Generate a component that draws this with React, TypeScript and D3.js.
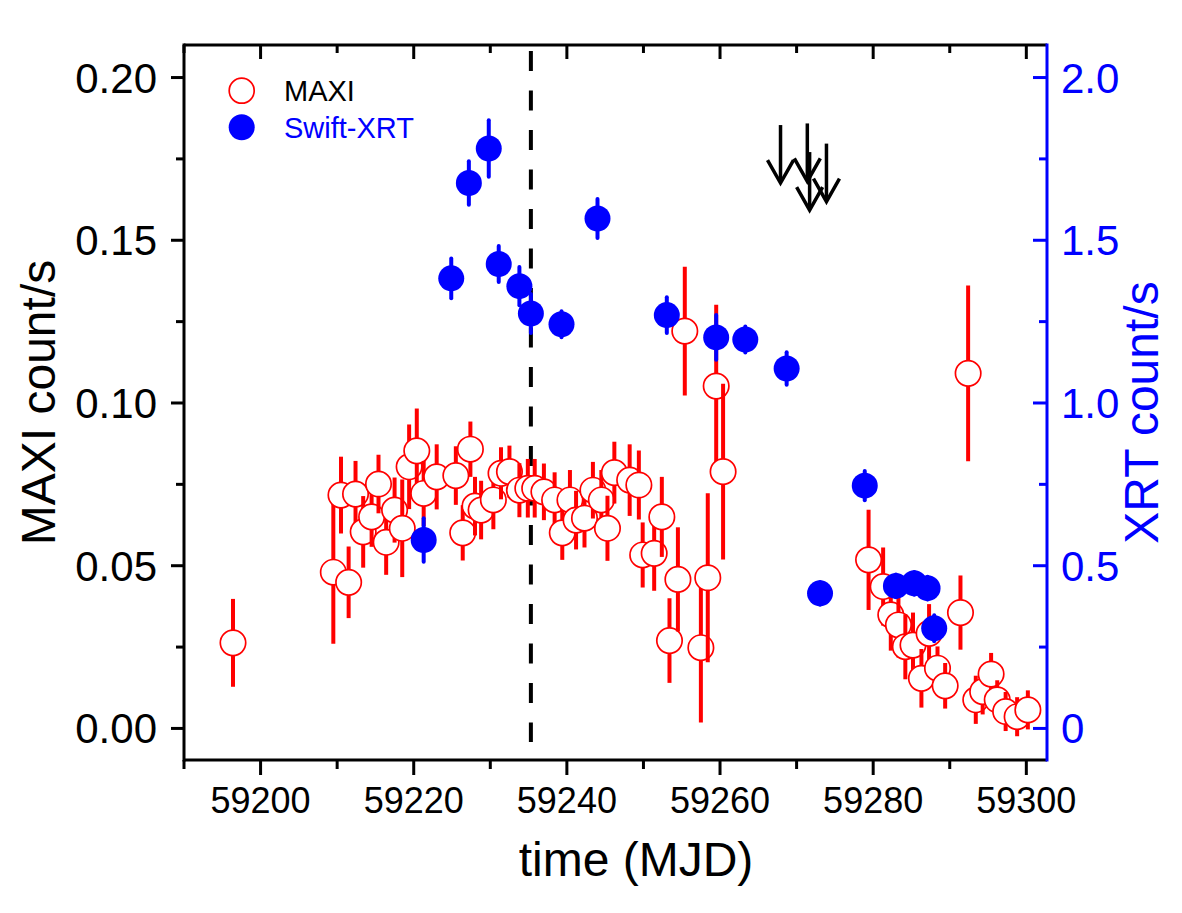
import React from "react";
import * as d3 from "d3";

// ---------- data ----------
const maxiTime = [
  59196.4, 59209.5, 59210.5, 59211.5, 59212.4, 59213.4, 59214.5, 59215.4, 59216.4, 59217.5,
  59218.5, 59219.4, 59220.4, 59221.3, 59223.0, 59225.5, 59226.4, 59227.4, 59228.0, 59228.8,
  59230.4, 59231.4, 59232.5, 59233.8, 59234.9, 59235.8, 59237.0, 59238.4, 59239.4, 59240.4,
  59241.2, 59242.3, 59243.4, 59244.5, 59245.3, 59246.2, 59248.2, 59249.4, 59249.9, 59251.4,
  59252.4, 59253.4, 59254.5, 59255.4, 59257.5, 59258.4, 59259.5, 59260.4, 59279.4, 59281.3,
  59282.3, 59283.3, 59284.2, 59285.2, 59286.3, 59287.3, 59288.4, 59289.4, 59291.4, 59292.4,
  59293.4, 59294.3, 59295.4, 59296.2, 59297.3, 59298.8, 59300.2,
];
const maxiRate = [
  0.0263, 0.048, 0.0717, 0.0449, 0.072, 0.0604, 0.065, 0.0751, 0.0572, 0.0671,
  0.0615, 0.0804, 0.0853, 0.0722, 0.0773, 0.0777, 0.0601, 0.0858, 0.0683, 0.0671,
  0.0702, 0.0784, 0.0789, 0.0732, 0.0738, 0.0738, 0.0727, 0.0702, 0.0601, 0.0702,
  0.064, 0.0646, 0.0732, 0.0702, 0.0615, 0.0786, 0.0763, 0.0748, 0.0533, 0.0538,
  0.065, 0.027, 0.0458, 0.1221, 0.0248, 0.0463, 0.1052, 0.0789, 0.0518, 0.0436,
  0.0349, 0.0318, 0.0251, 0.0256, 0.0154, 0.0292, 0.0185, 0.0131, 0.0356, 0.1091,
  0.0088, 0.0113, 0.0167, 0.0088, 0.0052, 0.0036, 0.0057,
];
const maxiErr = [
  0.0135, 0.022, 0.0118, 0.011, 0.0102, 0.011, 0.0092, 0.009, 0.01, 0.01,
  0.015, 0.013, 0.013, 0.01, 0.01, 0.009, 0.0085, 0.0085, 0.009, 0.009,
  0.009, 0.008, 0.008, 0.0083, 0.009, 0.009, 0.0087, 0.0085, 0.0083, 0.0092,
  0.009, 0.009, 0.0087, 0.0092, 0.01, 0.0095, 0.011, 0.0106, 0.01, 0.0115,
  0.0123, 0.013, 0.016, 0.0198, 0.023, 0.026, 0.025, 0.027, 0.0154, 0.012,
  0.011, 0.01, 0.01, 0.01, 0.009, 0.009, 0.0067, 0.007, 0.0114, 0.027,
  0.0074, 0.007, 0.0065, 0.006, 0.006, 0.006, 0.006,
];

const xrtTime = [
  59221.3, 59224.9, 59227.2, 59229.8, 59231.1, 59233.8, 59235.3, 59239.3, 59244.0, 59253.05,
  59259.5, 59263.3, 59268.7, 59273.06, 59278.9, 59282.97, 59285.36, 59287.1, 59287.97,
];
const xrtRate = [
  0.579, 1.383, 1.676, 1.782, 1.427, 1.359, 1.275, 1.242, 1.567, 1.27,
  1.2015, 1.195, 1.106, 0.415, 0.746, 0.438, 0.446, 0.431, 0.308,
];
const xrtErr = [
  0.067, 0.061, 0.067, 0.087, 0.055, 0.059, 0.06, 0.04, 0.06, 0.055,
  0.069, 0.04, 0.05, 0.035, 0.045, 0.035, 0.035, 0.035, 0.04,
];

// XRT upper limits (arrow start values)
const ulTime = [59267.9, 59271.4, 59271.7, 59273.9];
const ulRate = [1.854, 1.859, 1.771, 1.797];

const dashedTime = 59235.3;

const xTicks = [59200, 59220, 59240, 59260, 59280, 59300];
const xMinor = [59190, 59210, 59230, 59250, 59270, 59290];
const yLeftTicks = [0, 0.05, 0.1, 0.15, 0.2];
const yLeftLabels = ["0.00", "0.05", "0.10", "0.15", "0.20"];
const yLeftMinor = [0.025, 0.075, 0.125, 0.175];
const yRightTicks = [0, 0.5, 1.0, 1.5, 2.0];
const yRightLabels = ["0", "0.5", "1.0", "1.5", "2.0"];
const yRightMinor = [0.25, 0.75, 1.25, 1.75];

// ---------- layout ----------
const W = 1182;
const H = 913;
const L = 184;
const R = 1047;
const T = 45;
const B = 760;
const FONT = "'Liberation Sans', Arial, Helvetica, sans-serif";
const RED = "#ff0000";
const BLUE = "#0000ff";

export default function App() {
  const x = d3.scaleLinear().domain([59190, 59302.7]).range([L, R]);
  const y = d3.scaleLinear().domain([-0.0097, 0.21]).range([B, T]);
  const y2 = d3.scaleLinear().domain([-0.097, 2.1]).range([B, T]);

  const arrowLen = 58;

  return (
    <svg
      width={W}
      height={H}
      style={{ position: "absolute", left: 0, top: 0, background: "#fff" }}
      fontFamily={FONT}
    >
      <rect x={0} y={0} width={W} height={H} fill="#fff" />

      {/* dashed vertical line */}
      <line
        x1={x(dashedTime)}
        x2={x(dashedTime)}
        y1={51}
        y2={742}
        stroke="#000"
        strokeWidth={4}
        strokeDasharray="20,19.5"
      />

      {/* MAXI points */}
      <g>
        {maxiTime.map((t, i) => {
          const cx = x(t);
          const cy = y(maxiRate[i]);
          return (
            <g key={"m" + i}>
              <line
                x1={cx}
                x2={cx}
                y1={y(maxiRate[i] + maxiErr[i])}
                y2={y(maxiRate[i] - maxiErr[i])}
                stroke={RED}
                strokeWidth={4}
              />
              <circle cx={cx} cy={cy} r={12.7} fill="#fff" stroke={RED} strokeWidth={1.7} />
            </g>
          );
        })}
      </g>

      {/* XRT points */}
      <g>
        {xrtTime.map((t, i) => {
          const cx = x(t);
          const cy = y2(xrtRate[i]);
          return (
            <g key={"x" + i}>
              <line
                x1={cx}
                x2={cx}
                y1={y2(xrtRate[i] + xrtErr[i])}
                y2={y2(xrtRate[i] - xrtErr[i])}
                stroke={BLUE}
                strokeWidth={4}
                strokeLinecap="round"
              />
              <circle cx={cx} cy={cy} r={13} fill={BLUE} />
            </g>
          );
        })}
      </g>

      {/* upper limit arrows */}
      <g stroke="#000" strokeWidth={3.5} fill="none" strokeLinejoin="miter">
        {ulTime.map((t, i) => {
          const ax = x(t);
          const top = y2(ulRate[i]);
          const tip = top + arrowLen;
          return (
            <g key={"u" + i}>
              <line x1={ax} x2={ax} y1={top} y2={tip - 2} />
              <polyline points={`${ax - 13},${tip - 23} ${ax},${tip} ${ax + 13},${tip - 23}`} />
            </g>
          );
        })}
      </g>

      {/* frame */}
      <line x1={L} x2={R} y1={T} y2={T} stroke="#000" strokeWidth={3} />
      <line x1={L} x2={R} y1={B} y2={B} stroke="#000" strokeWidth={3} />
      <line x1={L} x2={L} y1={T - 1.5} y2={B + 1.5} stroke="#000" strokeWidth={3} />
      <line x1={R} x2={R} y1={T - 1.5} y2={B + 1.5} stroke={BLUE} strokeWidth={3} />

      {/* bottom & top ticks */}
      {xTicks.map((v) => (
        <g key={"xt" + v}>
          <line x1={x(v)} x2={x(v)} y1={B} y2={B + 15} stroke="#000" strokeWidth={3} />
          <line x1={x(v)} x2={x(v)} y1={T} y2={T + 14} stroke="#000" strokeWidth={3} />
          <text x={x(v)} y={813} fontSize={36} textAnchor="middle" fill="#000">
            {v}
          </text>
        </g>
      ))}
      {xMinor.map((v) => (
        <g key={"xm" + v}>
          <line x1={x(v)} x2={x(v)} y1={B} y2={B + 9} stroke="#000" strokeWidth={3} />
          <line x1={x(v)} x2={x(v)} y1={T} y2={T + 8} stroke="#000" strokeWidth={3} />
        </g>
      ))}

      {/* left ticks */}
      {yLeftTicks.map((v, i) => (
        <g key={"yl" + v}>
          <line x1={L - 13} x2={L} y1={y(v)} y2={y(v)} stroke="#000" strokeWidth={3} />
          <text x={157} y={y(v) + 15} fontSize={42} textAnchor="end" fill="#000">
            {yLeftLabels[i]}
          </text>
        </g>
      ))}
      {yLeftMinor.map((v) => (
        <line key={"ylm" + v} x1={L - 8} x2={L} y1={y(v)} y2={y(v)} stroke="#000" strokeWidth={3} />
      ))}

      {/* right ticks */}
      {yRightTicks.map((v, i) => (
        <g key={"yr" + v}>
          <line x1={R - 14} x2={R} y1={y2(v)} y2={y2(v)} stroke={BLUE} strokeWidth={3} />
          <text x={1061} y={y2(v) + 15} fontSize={42} textAnchor="start" fill={BLUE}>
            {yRightLabels[i]}
          </text>
        </g>
      ))}
      {yRightMinor.map((v) => (
        <line key={"yrm" + v} x1={R - 8} x2={R} y1={y2(v)} y2={y2(v)} stroke={BLUE} strokeWidth={3} />
      ))}

      {/* axis titles */}
      <text x={636} y={876} fontSize={48} textAnchor="middle" fill="#000">
        time (MJD)
      </text>
      <text
        transform={`translate(55, ${(T + B) / 2}) rotate(-90)`}
        fontSize={48}
        textAnchor="middle"
        fill="#000"
      >
        MAXI count/s
      </text>
      <text
        transform={`translate(1158, ${(T + B) / 2 + 10}) rotate(-90)`}
        fontSize={48}
        textAnchor="middle"
        fill={BLUE}
      >
        XRT count/s
      </text>

      {/* legend */}
      <circle cx={241.7} cy={90.7} r={12.5} fill="#fff" stroke={RED} strokeWidth={1.7} />
      <text x={284} y={101} fontSize={29} fill="#000">
        MAXI
      </text>
      <circle cx={241.7} cy={127.3} r={13} fill={BLUE} />
      <text x={284} y={137.5} fontSize={29} fill={BLUE}>
        Swift-XRT
      </text>
    </svg>
  );
}
